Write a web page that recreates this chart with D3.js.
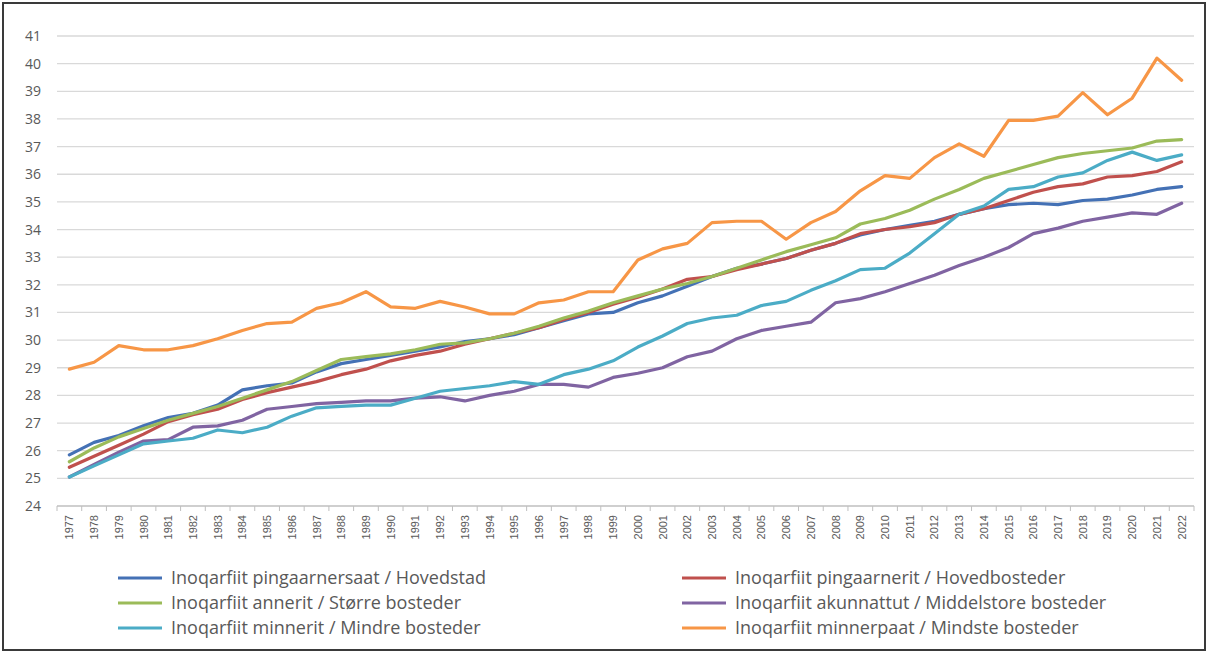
<!DOCTYPE html>
<html>
<head>
<meta charset="utf-8">
<script src="https://cdn.jsdelivr.net/npm/d3@7"></script>
<style>
  body { margin: 0; background: #fff; }
  svg { display: block; font-family: "Liberation Sans", Arial, sans-serif; }
</style>
</head>
<body>
<div id="chart"></div>
<script>
// years on the category axis
var years = d3.range(1977, 2023);

// series values
var hovedstad = [25.85, 26.3, 26.55, 26.9, 27.2, 27.35, 27.65, 28.2, 28.35, 28.45,
    28.85, 29.15, 29.3, 29.45, 29.6, 29.75, 29.95, 30.05, 30.2, 30.45,
    30.7, 30.95, 31.0, 31.35, 31.6, 31.95, 32.3, 32.6, 32.75, 32.95,
    33.25, 33.5, 33.8, 34.0, 34.15, 34.3, 34.55, 34.75, 34.9, 34.95,
    34.9, 35.05, 35.1, 35.25, 35.45, 35.55];
var hovedbosteder = [25.4, 25.8, 26.2, 26.6, 27.05, 27.3, 27.5, 27.85, 28.1, 28.3,
    28.5, 28.75, 28.95, 29.25, 29.45, 29.6, 29.85, 30.05, 30.25, 30.45,
    30.75, 31.0, 31.3, 31.55, 31.85, 32.2, 32.3, 32.55, 32.75, 32.95,
    33.25, 33.5, 33.85, 34.0, 34.1, 34.25, 34.55, 34.75, 35.05, 35.35,
    35.55, 35.65, 35.9, 35.95, 36.1, 36.45];
var stoerre = [25.6, 26.1, 26.5, 26.8, 27.1, 27.35, 27.6, 27.9, 28.2, 28.5,
    28.9, 29.3, 29.4, 29.5, 29.65, 29.85, 29.9, 30.05, 30.25, 30.5,
    30.8, 31.05, 31.35, 31.6, 31.85, 32.05, 32.3, 32.6, 32.9, 33.2,
    33.45, 33.7, 34.2, 34.4, 34.7, 35.1, 35.45, 35.85, 36.1, 36.35,
    36.6, 36.75, 36.85, 36.95, 37.2, 37.25];
var middelstore = [25.05, 25.5, 25.95, 26.35, 26.4, 26.85, 26.9, 27.1, 27.5, 27.6,
    27.7, 27.75, 27.8, 27.8, 27.9, 27.95, 27.8, 28.0, 28.15, 28.4,
    28.4, 28.3, 28.65, 28.8, 29.0, 29.4, 29.6, 30.05, 30.35, 30.5,
    30.65, 31.35, 31.5, 31.75, 32.05, 32.35, 32.7, 33.0, 33.35, 33.85,
    34.05, 34.3, 34.45, 34.6, 34.55, 34.95];
var mindre = [25.05, 25.45, 25.85, 26.25, 26.35, 26.45, 26.75, 26.65, 26.85, 27.25,
    27.55, 27.6, 27.65, 27.65, 27.9, 28.15, 28.25, 28.35, 28.5, 28.4,
    28.75, 28.95, 29.25, 29.75, 30.15, 30.6, 30.8, 30.9, 31.25, 31.4,
    31.8, 32.15, 32.55, 32.6, 33.15, 33.85, 34.55, 34.85, 35.45, 35.55,
    35.9, 36.05, 36.5, 36.8, 36.5, 36.7];
var mindste = [28.95, 29.2, 29.8, 29.65, 29.65, 29.8, 30.05, 30.35, 30.6, 30.65,
    31.15, 31.35, 31.75, 31.2, 31.15, 31.4, 31.2, 30.95, 30.95, 31.35,
    31.45, 31.75, 31.75, 32.9, 33.3, 33.5, 34.25, 34.3, 34.3, 33.65,
    34.25, 34.65, 35.4, 35.95, 35.85, 36.6, 37.1, 36.65, 37.95, 37.95,
    38.1, 38.95, 38.15, 38.75, 40.2, 39.4];

var seriesNames = [
    "Inoqarfiit pingaarnersaat / Hovedstad",
    "Inoqarfiit pingaarnerit / Hovedbosteder",
    "Inoqarfiit annerit / Større bosteder",
    "Inoqarfiit akunnattut / Middelstore bosteder",
    "Inoqarfiit minnerit / Mindre bosteder",
    "Inoqarfiit minnerpaat / Mindste bosteder"
];
var seriesValues = [hovedstad, hovedbosteder, stoerre, middelstore, mindre, mindste];
var seriesColors = ["#4471b5", "#c0504d", "#9bbb59", "#8064a2", "#4bacc6", "#f79646"];
var yTicks = d3.range(24, 42);

var width = 1208, height = 652;
var svg = d3.select("#chart").append("svg")
    .attr("width", width).attr("height", height);

svg.append("rect")
    .attr("x", 3).attr("y", 3)
    .attr("width", width - 6).attr("height", height - 5)
    .attr("fill", "#fff").attr("stroke", "#3a3a3a").attr("stroke-width", 2);

var x = d3.scalePoint().domain(years).range([57, 1194]).padding(0.5);
var y = d3.scaleLinear().domain([24, 41]).range([506, 36]);

// horizontal grid
svg.append("g").selectAll("line")
    .data(yTicks.filter(function (d) { return d > 24; }))
    .join("line")
    .attr("x1", 57).attr("x2", 1194)
    .attr("y1", function (d) { return y(d); })
    .attr("y2", function (d) { return y(d); })
    .attr("stroke", "#d9d9d9").attr("stroke-width", 1.3);

// y axis labels
var yAxis = d3.axisLeft(y).tickValues(yTicks).tickSize(0).tickPadding(0);
svg.append("g")
    .attr("transform", "translate(41,0)")
    .call(yAxis)
    .call(function (g) { g.select(".domain").remove(); })
    .selectAll("text")
    .attr("fill", "#595959")
    .style("font-family", "'Open Sans', sans-serif")
    .style("font-size", "14px");

// x axis with tick marks between categories
var step = x.step();
var xg = svg.append("g").attr("transform", "translate(0," + y(24) + ")");
xg.append("line")
    .attr("x1", 57).attr("x2", 1194)
    .attr("stroke", "#bfbfbf").attr("stroke-width", 1.3);
xg.selectAll("line.tick")
    .data(d3.range(years.length + 1))
    .join("line")
    .attr("class", "tick")
    .attr("x1", function (i) { return 57 + i * step; })
    .attr("x2", function (i) { return 57 + i * step; })
    .attr("y1", 0).attr("y2", 5)
    .attr("stroke", "#bfbfbf");
xg.selectAll("text")
    .data(years)
    .join("text")
    .attr("transform", function (d) { return "translate(" + (x(d) + 4) + ",9) rotate(-90)"; })
    .attr("text-anchor", "end")
    .attr("fill", "#595959")
    .style("font-size", "11px")
    .text(function (d) { return d; });

// lines
var line = d3.line()
    .x(function (d, i) { return x(years[i]); })
    .y(function (d) { return y(d); });
svg.append("g").selectAll("path")
    .data(seriesValues)
    .join("path")
    .attr("d", line)
    .attr("fill", "none")
    .attr("stroke", function (d, i) { return seriesColors[i]; })
    .attr("stroke-width", 3.2)
    .attr("stroke-linejoin", "round")
    .attr("stroke-linecap", "round");

// legend: two columns, three rows
var legend = svg.append("g").selectAll("g")
    .data(seriesNames)
    .join("g")
    .attr("transform", function (d, i) {
        var col = i % 2, row = Math.floor(i / 2);
        return "translate(" + (col ? 682 : 118) + "," + (578 + row * 25) + ")";
    });
legend.append("line")
    .attr("x1", 0).attr("x2", 44)
    .attr("stroke", function (d, i) { return seriesColors[i]; })
    .attr("stroke-width", 3.2);
legend.append("text")
    .attr("x", 53).attr("dy", "0.35em")
    .attr("fill", "#595959")
    .style("font-family", "'Open Sans', sans-serif")
    .style("font-size", "18px")
    .text(function (d) { return d; });
</script>
</body>
</html>
